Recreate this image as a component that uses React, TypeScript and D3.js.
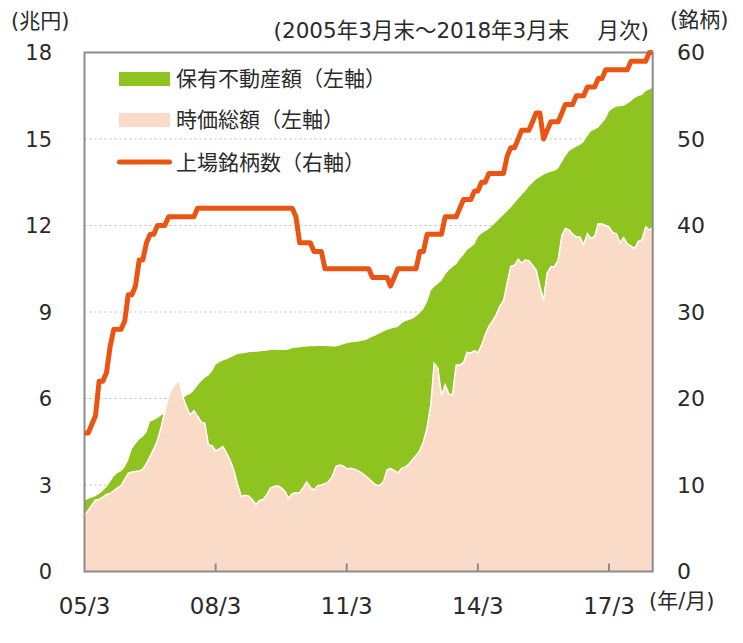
import React, { useEffect, useRef } from "react";
import * as d3 from "d3";

// monthly, 2005/3 .. 2018/3 (trillion yen, left axis)
const holdings = [
  2.45, 2.52, 2.56, 2.62, 2.69, 2.8, 2.93, 3.1, 3.3, 3.42,
  3.48, 3.62, 3.85, 4.25, 4.42, 4.58, 4.67, 4.83, 5.2, 5.25,
  5.32, 5.42, 5.48, 5.58, 5.68, 5.78, 5.88, 6.0, 6.1, 6.16,
  6.28, 6.45, 6.6, 6.72, 6.8, 6.95, 7.17, 7.26, 7.32, 7.36,
  7.42, 7.48, 7.54, 7.56, 7.58, 7.6, 7.61, 7.62, 7.63, 7.65,
  7.66, 7.68, 7.69, 7.68, 7.68, 7.68, 7.7, 7.74, 7.76, 7.78,
  7.79, 7.8, 7.81, 7.81, 7.82, 7.82, 7.82, 7.81, 7.8, 7.8,
  7.84, 7.88, 7.92, 7.94, 7.96, 7.97, 7.99, 8.02, 8.08, 8.14,
  8.19, 8.26, 8.32, 8.38, 8.42, 8.45, 8.48, 8.6, 8.68, 8.72,
  8.77, 8.85, 8.96, 9.1, 9.35, 9.75, 9.88, 9.98, 10.08, 10.3,
  10.45, 10.56, 10.66, 10.84, 10.98, 11.15, 11.25, 11.36, 11.6, 11.72,
  11.8, 11.88, 12.0, 12.12, 12.25, 12.37, 12.5, 12.62, 12.78, 12.93,
  13.06, 13.2, 13.36, 13.48, 13.6, 13.68, 13.76, 13.82, 13.86, 13.9,
  13.98, 14.2, 14.4, 14.58, 14.66, 14.74, 14.79, 14.9, 15.1, 15.27,
  15.33, 15.4, 15.55, 15.7, 15.95, 16.06, 16.12, 16.14, 16.15, 16.22,
  16.32, 16.42, 16.49, 16.53, 16.66, 16.72, 16.78,
];

const marketCap = [
  1.95, 2.12, 2.3, 2.48, 2.5, 2.58, 2.67, 2.71, 2.8, 2.9,
  2.98, 3.2, 3.4, 3.45, 3.47, 3.49, 3.55, 3.75, 4.0, 4.25,
  4.55, 5.0, 5.55, 6.06, 6.35, 6.5, 6.67, 6.05, 5.72, 5.43,
  5.58, 5.4, 5.18, 5.14, 4.39, 4.36, 4.18, 4.25, 4.33, 4.1,
  3.85, 3.5, 3.0, 2.6, 2.64, 2.62, 2.5, 2.31, 2.46, 2.5,
  2.65, 2.89, 2.95, 2.97, 2.9, 2.78, 2.54, 2.7, 2.73, 2.73,
  2.9, 3.11, 2.92, 2.83, 2.98, 3.0, 3.05, 3.12, 3.3, 3.65,
  3.69, 3.66, 3.56, 3.58, 3.56, 3.5, 3.43, 3.33, 3.22, 3.1,
  3.0, 2.98, 3.1, 3.52, 3.58, 3.5, 3.42, 3.58, 3.62, 3.72,
  3.88, 4.02, 4.2, 4.5, 5.0, 5.8, 7.22, 7.05, 6.1, 6.47,
  6.16, 6.12, 7.16, 7.16, 7.25, 7.6, 7.58, 7.66, 7.58, 7.85,
  8.2, 8.5, 8.68, 8.9, 9.2, 9.38, 10.0, 10.58, 10.62, 10.83,
  10.7, 10.8, 10.78, 10.62, 10.45, 9.9, 9.4, 10.35, 10.57, 10.57,
  10.8, 11.65, 11.9, 11.85, 11.7, 11.6, 11.6, 11.33, 11.72, 11.55,
  11.62, 12.06, 12.05, 12.0, 11.95, 11.75, 11.72, 11.4, 11.58, 11.36,
  11.28, 11.2, 11.45, 11.5, 11.95, 11.84, 11.93,
];

// listed issues (right axis)
const listedCount = [
  16, 16, 17, 18, 22, 22, 23, 26, 28, 28,
  28, 29, 32, 32, 33, 36, 36, 38, 39, 39,
  40, 40, 40, 41, 41, 41, 41, 41, 41, 41,
  41, 42, 42, 42, 42, 42, 42, 42, 42, 42,
  42, 42, 42, 42, 42, 42, 42, 42, 42, 42,
  42, 42, 42, 42, 42, 42, 42, 42, 41, 38,
  38, 38, 38, 37, 37, 37, 35, 35, 35, 35,
  35, 35, 35, 35, 35, 35, 35, 35, 35, 34,
  34, 34, 34, 34, 33, 34, 35, 35, 35, 35,
  35, 35, 37, 37, 39, 39, 39, 39, 39, 41,
  41, 41, 41, 42, 43, 43, 43, 44, 44, 45,
  45, 46, 46, 46, 46, 46, 48, 49, 49, 50,
  51, 51, 51, 52, 53, 53, 50, 51, 52, 52,
  52, 53, 54, 54, 54, 55, 55, 55, 56, 56,
  56, 57, 57, 58, 58, 58, 58, 58, 58, 58,
  59, 59, 59, 59, 59, 60, 60,
];

const xTickLabels = ["05/3", "08/3", "11/3", "14/3", "17/3"];
const xTickYears = [2005, 2008, 2011, 2014, 2017];
const leftTicks = [0, 3, 6, 9, 12, 15, 18];
const rightTicks = [0, 10, 20, 30, 40, 50, 60];
const legendText = ["保有不動産額（左軸）", "時価総額（左軸）", "上場銘柄数（右軸）"];

const GREEN = "#8fc31f";
const PINK = "#fadbc8";
const ORANGE = "#ea5514";
const FRAME = "#8c8c8c";
const TEXT = "#2a2a2a";
// Verdana-like latin (DejaVu) with Noto CJK for the Japanese glyphs
const FONT = "'DejaVu Sans', 'Noto Sans CJK JP', sans-serif";
const CJK = "'Noto Sans CJK JP', sans-serif";

const App = () => {
  const svgRef = useRef(null);

  useEffect(() => {
    const root = d3.select(svgRef.current);
    root.selectAll("*").remove();

    const left = 84.5;
    const right = 652.7;
    const top = 52.5;
    const bottom = 571.5;

    const start = new Date(2005, 2, 1);
    const months = holdings.map((_, i) => d3.timeMonth.offset(start, i));

    const x = d3.scaleTime().domain([months[0], months[months.length - 1]]).range([left, right]);
    const yL = d3.scaleLinear().domain([0, 18]).range([bottom, top]);
    const yR = d3.scaleLinear().domain([0, 60]).range([bottom, top]);

    const g = root.append("g").style("font-family", FONT).attr("fill", TEXT);

    // dotted grid
    g.append("g")
      .selectAll("line")
      .data(leftTicks.filter((t) => t > 0 && t < 18))
      .enter()
      .append("line")
      .attr("x1", left)
      .attr("x2", right)
      .attr("y1", (d) => yL(d))
      .attr("y2", (d) => yL(d))
      .attr("stroke", "#bdbdbd")
      .attr("stroke-width", 1.2)
      .attr("stroke-dasharray", "2,3");

    // holdings area
    const area = d3
      .area()
      .x((d, i) => x(months[i]))
      .y0(bottom)
      .y1((d) => yL(d));
    g.append("path").datum(holdings).attr("d", area).attr("fill", GREEN);

    // market cap area with white edge
    g.append("path").datum(marketCap).attr("d", area).attr("fill", PINK);
    g.append("path")
      .datum(marketCap)
      .attr("d", d3.line().x((d, i) => x(months[i])).y((d) => yL(d)))
      .attr("fill", "none")
      .attr("stroke", "#fff")
      .attr("stroke-width", 1.5);

    // frame
    g.append("rect")
      .attr("x", left)
      .attr("y", top)
      .attr("width", right - left)
      .attr("height", bottom - top)
      .attr("fill", "none")
      .attr("stroke", FRAME)
      .attr("stroke-width", 2);

    // inner ticks on the bottom
    g.append("g")
      .selectAll("line")
      .data(xTickYears.slice(1))
      .enter()
      .append("line")
      .attr("x1", (d) => x(new Date(d, 2, 1)))
      .attr("x2", (d) => x(new Date(d, 2, 1)))
      .attr("y1", bottom)
      .attr("y2", bottom - 8)
      .attr("stroke", FRAME)
      .attr("stroke-width", 2);

    // listed count line
    g.append("path")
      .datum(listedCount)
      .attr("d", d3.line().x((d, i) => x(months[i])).y((d) => yR(d)))
      .attr("fill", "none")
      .attr("stroke", ORANGE)
      .attr("stroke-width", 5)
      .attr("stroke-linejoin", "round");

    // axis labels
    g.append("g")
      .selectAll("text")
      .data(leftTicks)
      .enter()
      .append("text")
      .attr("x", 52)
      .attr("y", (d) => yL(d))
      .attr("dy", "0.36em")
      .attr("text-anchor", "end")
      .style("font-size", "21px")
      .text((d) => d);

    g.append("g")
      .selectAll("text")
      .data(rightTicks)
      .enter()
      .append("text")
      .attr("x", 677)
      .attr("y", (d) => yR(d))
      .attr("dy", "0.36em")
      .attr("text-anchor", "start")
      .style("font-size", "22px")
      .text((d) => d);

    g.append("g")
      .selectAll("text")
      .data(xTickYears)
      .enter()
      .append("text")
      .attr("x", (d) => x(new Date(d, 2, 1)))
      .attr("y", 605.5)
      .attr("dy", "0.36em")
      .attr("text-anchor", "middle")
      .style("font-size", "23px")
      .text((d, i) => xTickLabels[i]);

    g.append("text").attr("x", 11).attr("y", 20).attr("dy", "0.36em").style("font-size", "21px").text("(兆円)");
    g.append("text").attr("x", 670).attr("y", 19).attr("dy", "0.36em").style("font-size", "21px").text("(銘柄)");
    g.append("text").attr("x", 649).attr("y", 600).attr("dy", "0.36em").style("font-size", "21px").text("(年/月)");
    g.append("text")
      .attr("x", 649)
      .attr("y", 30)
      .attr("dy", "0.36em")
      .attr("text-anchor", "end")
      .style("font-size", "21.5px")
      .text("(2005年3月末～2018年3月末　 月次)");

    // legend
    const lg = g.append("g");
    lg.append("rect").attr("x", 119).attr("y", 72).attr("width", 51).attr("height", 14).attr("fill", GREEN);
    lg.append("rect").attr("x", 119).attr("y", 113).attr("width", 51).attr("height", 14).attr("fill", PINK);
    lg.append("line")
      .attr("x1", 119.5)
      .attr("x2", 169.5)
      .attr("y1", 162)
      .attr("y2", 162)
      .attr("stroke", ORANGE)
      .attr("stroke-width", 5)
      .attr("stroke-linecap", "round");
    const legendY = [78, 119, 162.5];
    lg.selectAll("text.lt")
      .data(legendText)
      .enter()
      .append("text")
      .attr("x", 176)
      .attr("y", (d, i) => legendY[i])
      .attr("dy", "0.36em")
      .style("font-family", CJK)
      .style("font-size", "21px")
      .text((d) => d);
  }, []);

  return <svg ref={svgRef} width={743} height={643} style={{ position: "absolute", left: 0, top: 0, background: "#fff" }} />;
};

export default App;
